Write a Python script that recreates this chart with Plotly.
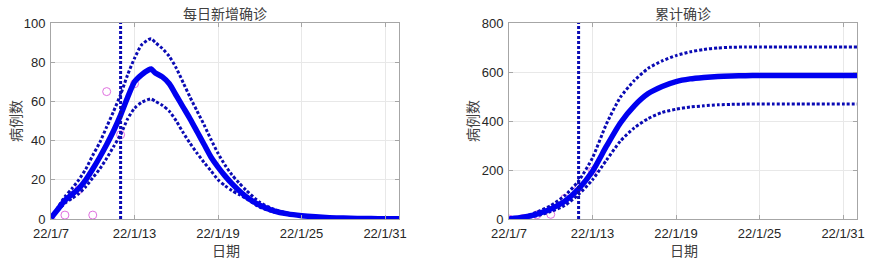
import pandas as pd
import plotly.graph_objects as go

BASE = pd.Timestamp("2022-01-07")

# ---- left panel: daily new cases (day offsets from 22/1/7) ----
daily_days = [0, 0.5, 1, 1.5, 2, 2.5, 3, 3.5, 4, 4.5, 5, 5.5, 6, 6.5, 7, 7.2, 7.5, 8, 8.5,
              9, 9.5, 10, 10.5, 11, 11.5, 12, 12.5, 13, 13.5, 14, 15, 16, 17, 18, 19, 20,
              21, 22, 23, 24, 25]
daily_mid = [0.5, 5, 9.5, 12.5, 15.6, 20, 25.5, 31.5, 38, 45, 53, 62, 70, 73.5, 76, 76.5, 74.5,
             72.5, 69, 63, 57, 51, 44.5, 38, 31.5, 26.5, 22, 18, 14.5, 11.5, 7, 4.2, 2.6, 1.7,
             1.1, 0.7, 0.45, 0.3, 0.2, 0.12, 0.08]
daily_up = [0.5, 6, 11.4, 15.5, 20, 25.5, 32.5, 39, 47, 55, 63.5, 73.5, 82, 88.8, 91.5, 92, 90,
            87, 83, 77, 69.5, 62, 55, 48, 40.5, 33.5, 27.5, 22.5, 18.5, 14.8, 8.5, 5, 3, 1.9,
            1.2, 0.8, 0.5, 0.35, 0.22, 0.14, 0.09]
daily_low = [0.5, 4.5, 8, 10.5, 13, 16.5, 21, 25.5, 31, 37, 43, 51, 56.5, 59.5, 61, 61.3, 60,
             58, 55, 50, 44, 38.5, 33.5, 28.8, 24.5, 20, 17, 14.5, 12.5, 10.5, 6, 3.6, 2.3, 1.5,
             1.0, 0.6, 0.4, 0.27, 0.18, 0.1, 0.07]

obs_days = [0, 1, 2, 3, 4, 5, 6]
obs_daily = [0, 2, 15, 2, 65, 43, 69]
obs_cum = [0, 2, 17, 19, 84, 127, 196]

# ---- right panel: cumulative cases ----
cum_days = list(range(0, 26))
cum_mid = [0, 7, 20, 41, 72, 123, 195, 297, 392, 462, 512, 541, 561, 572, 578, 582, 584, 585,
           586, 586, 586, 586, 586, 586, 586, 586]
cum_up = [0, 9, 28, 55, 95, 155, 250, 388, 497, 565, 615, 645, 667, 682, 692, 698, 701, 702,
          702, 702, 702, 702, 702, 702, 702, 702]
cum_low = [0, 4, 13, 30, 55, 100, 160, 240, 318, 372, 410, 435, 448, 457, 462, 466, 468, 469,
           469, 469, 469, 469, 469, 469, 469, 469]

cutoff_day = 5  # 22/1/12
x_end_day = 25
tick_days = [0, 6, 12, 18, 24]
tick_labels = ["22/1/7", "22/1/13", "22/1/19", "22/1/25", "22/1/31"]
titles = ["每日新增确诊", "累计确诊"]
xlabel = "日期"
ylabel = "病例数"


def to_dates(days):
    return [BASE + pd.Timedelta(days=d) for d in days]


MID_C = "#0000f0"
DOT_C = "#0a0ab4"
OBS_C = "#e070e0"
DOT_DASH = "3px,2px"

fig = go.Figure()


def add_panel(xa, ya, days, mid, up, low, ods, ovals):
    kw = dict(xaxis=xa, yaxis=ya, showlegend=False, hoverinfo="x+y")
    fig.add_trace(go.Scatter(x=to_dates(ods), y=ovals, mode="markers",
                             marker=dict(symbol="circle-open", size=8, color=OBS_C,
                                         line=dict(width=1)), **kw))
    fig.add_trace(go.Scatter(x=to_dates(days), y=up, mode="lines",
                             line=dict(color=DOT_C, width=3, dash=DOT_DASH, shape="spline",
                                       smoothing=0.6), **kw))
    fig.add_trace(go.Scatter(x=to_dates(days), y=low, mode="lines",
                             line=dict(color=DOT_C, width=3, dash=DOT_DASH, shape="spline",
                                       smoothing=0.6), **kw))
    fig.add_trace(go.Scatter(x=to_dates(days), y=mid, mode="lines",
                             line=dict(color=MID_C, width=5.5, shape="spline", smoothing=0.6),
                             **kw))


add_panel("x", "y", daily_days, daily_mid, daily_up, daily_low, obs_days, obs_daily)
add_panel("x2", "y2", cum_days, cum_mid, cum_up, cum_low, obs_days, obs_cum)

cut = BASE + pd.Timedelta(days=cutoff_day)
for xr, yr in (("x", "y domain"), ("x2", "y2 domain")):
    fig.add_shape(type="line", xref=xr, yref=yr, x0=cut, x1=cut, y0=0, y1=1,
                  line=dict(color=DOT_C, width=3, dash=DOT_DASH), layer="above")

FONT = "Liberation Sans, Arial, sans-serif"
CJK = "Noto Sans CJK SC, sans-serif"
AX_C = "#a6a6a6"
GRID_C = "#e8e8e8"
TICK_FONT = dict(family=FONT, size=13, color="#262626")

xcommon = dict(type="date", range=[BASE, BASE + pd.Timedelta(days=x_end_day)],
               tickvals=to_dates(tick_days), ticktext=tick_labels, tickfont=TICK_FONT,
               showgrid=True, gridcolor=GRID_C, gridwidth=1, showline=True, linecolor=AX_C,
               linewidth=1, mirror="ticks", ticks="inside", ticklen=4, tickcolor=AX_C,
               zeroline=False, fixedrange=True, automargin=False, ticklabelstandoff=2)
ycommon = dict(tickfont=TICK_FONT, showgrid=True, gridcolor=GRID_C, gridwidth=1,
               showline=True, linecolor=AX_C, linewidth=1, mirror="ticks", ticks="inside",
               ticklen=4, tickcolor=AX_C, zeroline=False, fixedrange=True, automargin=False,
               ticklabelstandoff=2)

W, H = 870, 261
L1, R1, L2, R2 = 51, 399, 509, 857
TOP, BOT = 23, 219

fig.update_layout(
    width=W, height=H, margin=dict(l=0, r=0, t=0, b=0, autoexpand=False),
    paper_bgcolor="white", plot_bgcolor="white",
    xaxis=dict(domain=[L1 / W, R1 / W], anchor="y", **xcommon),
    yaxis=dict(domain=[1 - BOT / H, 1 - TOP / H], anchor="x", range=[0, 100],
               tickvals=[0, 20, 40, 60, 80, 100], **ycommon),
    xaxis2=dict(domain=[L2 / W, R2 / W], anchor="y2", **xcommon),
    yaxis2=dict(domain=[1 - BOT / H, 1 - TOP / H], anchor="x2", range=[0, 800],
                tickvals=[0, 200, 400, 600, 800], **ycommon),
)

ann_font = dict(family=CJK, size=14, color="#404040")
anns = [
    (225, 13, titles[0], 0), (683, 13, titles[1], 0),
    (226, 250, xlabel, 0), (684, 250, xlabel, 0),
    (15, 121, ylabel, -90), (472, 121, ylabel, -90),
]
for x, y, t, rot in anns:
    fig.add_annotation(x=x / W, y=1 - y / H, xref="paper", yref="paper", text=t,
                       showarrow=False, font=ann_font, textangle=rot,
                       xanchor="center", yanchor="middle")

fig.write_html("out.html")
